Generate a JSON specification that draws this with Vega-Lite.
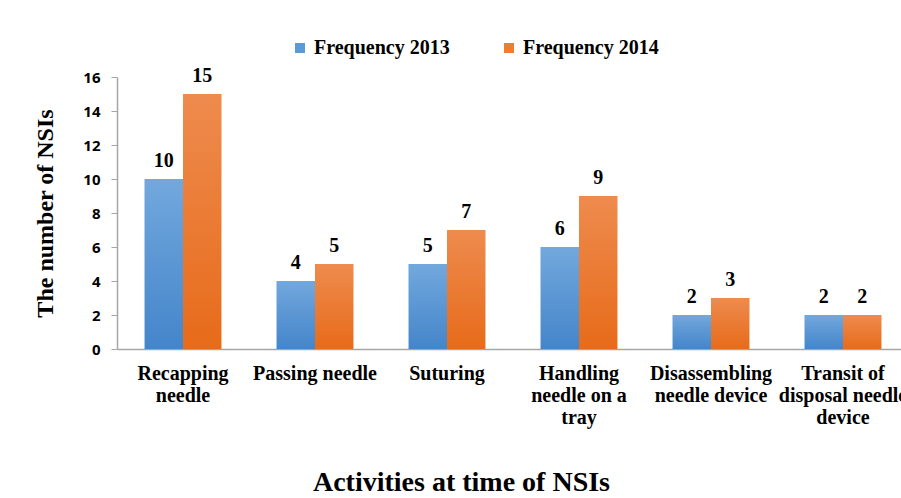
{
  "$schema": "https://vega.github.io/schema/vega-lite/v6.json",
  "autosize": {"type": "none"},
  "padding": {"left": 117, "top": 77, "right": 0, "bottom": 149},
  "width": 792,
  "height": 272,
  "background": "white",
  "config": {"view": {"stroke": null}},
  "data": {"values": [
    {"activity": "Recapping needle", "year": "Frequency 2013", "value": 10},
    {"activity": "Recapping needle", "year": "Frequency 2014", "value": 15},
    {"activity": "Passing needle", "year": "Frequency 2013", "value": 4},
    {"activity": "Passing needle", "year": "Frequency 2014", "value": 5},
    {"activity": "Suturing", "year": "Frequency 2013", "value": 5},
    {"activity": "Suturing", "year": "Frequency 2014", "value": 7},
    {"activity": "Handling needle on a tray", "year": "Frequency 2013", "value": 6},
    {"activity": "Handling needle on a tray", "year": "Frequency 2014", "value": 9},
    {"activity": "Disassembling needle device", "year": "Frequency 2013", "value": 2},
    {"activity": "Disassembling needle device", "year": "Frequency 2014", "value": 3},
    {"activity": "Transit of disposal needle device", "year": "Frequency 2013", "value": 2},
    {"activity": "Transit of disposal needle device", "year": "Frequency 2014", "value": 2}
  ]},
  "encoding": {
    "x": {
      "field": "activity", "type": "nominal", "sort": null,
      "scale": {"paddingInner": 0.42, "paddingOuter": 0.21},
      "axis": {
        "title": "Activities at time of NSIs",
        "titleFont": "Liberation Serif", "titleFontSize": 28, "titleFontWeight": "bold", "titleColor": "#000",
        "titleX": 344, "titleY": 141, "titleBaseline": "alphabetic", "titleAnchor": null, "titleAlign": "center",
        "labelFont": "Liberation Serif", "labelFontSize": 20, "labelFontWeight": "bold", "labelColor": "#000",
        "labelAngle": 0, "labelLineHeight": 22, "labelPadding": 14, "labelBaseline": "top", "labelLimit": 0,
        "ticks": false, "domainColor": "#a6a6a6", "domainWidth": 1.5,
        "labelExpr": "datum.value == 'Recapping needle' ? ['Recapping','needle'] : datum.value == 'Handling needle on a tray' ? ['Handling','needle on a','tray'] : datum.value == 'Disassembling needle device' ? ['Disassembling','needle device'] : datum.value == 'Transit of disposal needle device' ? ['Transit of','disposal needle','device'] : datum.value"
      }
    },
    "xOffset": {"field": "year", "type": "nominal", "scale": {"paddingInner": 0, "paddingOuter": 0}},
    "y": {
      "field": "value", "type": "quantitative",
      "scale": {"domain": [0, 16], "nice": false},
      "axis": {
        "title": "The number of NSIs",
        "titleFont": "Liberation Serif", "titleFontSize": 24, "titleFontWeight": "bold", "titleColor": "#000",
        "titleX": -72, "titleY": 136, "titleAngle": -90, "titleBaseline": "middle", "titleAlign": "center",
        "values": [0, 2, 4, 6, 8, 10, 12, 14, 16],
        "grid": false,
        "labelFont": "Open Sans", "labelFontSize": 15, "labelFontWeight": "bold", "labelColor": "#000",
        "labelPadding": 11, "tickSize": 6, "tickColor": "#a6a6a6", "domainColor": "#a6a6a6", "domainWidth": 1.5
      }
    }
  },
  "layer": [
    {
      "mark": {"type": "bar"},
      "encoding": {
        "color": {
          "field": "year", "type": "nominal",
          "scale": {"domain": ["Frequency 2013", "Frequency 2014"], "range": ["#5b9bd5", "#ed7d31"]},
          "legend": {
            "title": null, "orient": "none", "legendX": 173, "legendY": -39,
            "direction": "horizontal", "columns": 2, "columnPadding": 49, "padding": 0,
            "symbolType": "square", "symbolSize": 100, "symbolStrokeWidth": 0, "symbolOffset": 0,
            "labelFont": "Liberation Serif", "labelFontSize": 20, "labelFontWeight": "bold", "labelColor": "#000",
            "labelOffset": 4, "labelLimit": 0
          }
        }
      }
    },
    {
      "transform": [{"filter": "datum.year == 'Frequency 2013'"}],
      "mark": {"type": "bar", "color": {"gradient": "linear", "x1": 0, "y1": 0, "x2": 0, "y2": 1,
        "stops": [{"offset": 0, "color": "#72a8dd"}, {"offset": 1, "color": "#4485ca"}]}}
    },
    {
      "transform": [{"filter": "datum.year == 'Frequency 2014'"}],
      "mark": {"type": "bar", "color": {"gradient": "linear", "x1": 0, "y1": 0, "x2": 0, "y2": 1,
        "stops": [{"offset": 0, "color": "#ee8b4e"}, {"offset": 1, "color": "#e76b1a"}]}}
    },
    {
      "mark": {"type": "text", "font": "Liberation Serif", "fontSize": 20, "fontWeight": "bold", "color": "#000", "baseline": "alphabetic", "dy": -12},
      "encoding": {"text": {"field": "value", "type": "quantitative"}}
    }
  ]
}
